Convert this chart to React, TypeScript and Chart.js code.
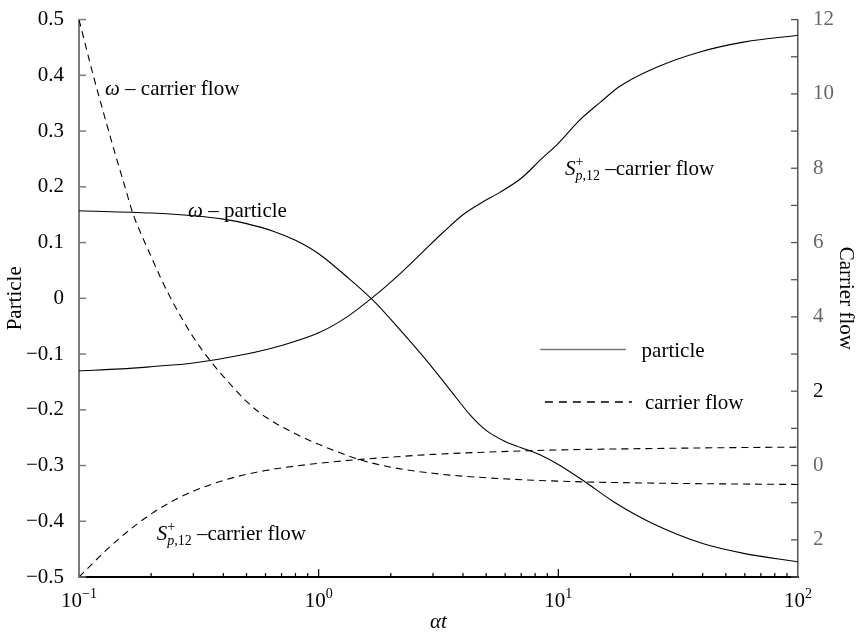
import React, { useEffect, useRef } from 'react';
import { Chart, registerables } from 'chart.js';

Chart.register(...registerables);

// ---- data (x = αt) ----
const xOmegaParticle = [0.1, 0.2, 0.3, 0.4, 0.5, 0.65, 0.8, 1.0, 1.3, 1.7, 2.2, 2.8, 3.5, 4.3, 5.0, 6.0, 7.0, 8.5, 10, 13, 17, 25, 40, 60, 100];
const yOmegaParticle = [0.157, 0.153, 0.148, 0.142, 0.134, 0.120, 0.104, 0.080, 0.040, -0.005, -0.058, -0.110, -0.162, -0.210, -0.237, -0.257, -0.268, -0.282, -0.298, -0.330, -0.365, -0.405, -0.440, -0.458, -0.473];

// solid rising curve, read on the right (carrier flow) axis
const xSParticle = [0.1, 0.15, 0.2, 0.3, 0.5, 0.7, 1.0, 1.3, 1.7, 2.2, 2.7, 3.3, 4.0, 4.8, 5.7, 7.0, 8.5, 10, 12.3, 15, 18, 26, 39, 60, 100];
const ySParticle = [2.55, 2.6, 2.66, 2.76, 3.0, 3.23, 3.57, 3.98, 4.55, 5.18, 5.73, 6.27, 6.75, 7.08, 7.35, 7.73, 8.25, 8.67, 9.3, 9.78, 10.2, 10.73, 11.13, 11.4, 11.58];

const xOmegaCarrier = [0.1, 0.115, 0.13, 0.1436, 0.156, 0.1685, 0.183, 0.198, 0.22, 0.25, 0.3, 0.35, 0.4, 0.5, 0.6, 0.8, 1.0, 1.5, 2.0, 3.0, 5.0, 10, 20, 50, 100];
const yOmegaCarrier = [0.5, 0.398, 0.315, 0.25, 0.198, 0.15, 0.112, 0.079, 0.035, -0.012, -0.07, -0.11, -0.14, -0.185, -0.213, -0.243, -0.262, -0.29, -0.303, -0.314, -0.322, -0.328, -0.331, -0.333, -0.334];

const xSCarrier = [0.1, 0.1305, 0.16, 0.198, 0.25, 0.3, 0.413, 0.6, 1.0, 1.5, 2, 3, 5, 10, 20, 50, 100];
const ySCarrier = [-3.0, -2.265, -1.77, -1.32, -0.93, -0.69, -0.375, -0.135, 0.06, 0.165, 0.225, 0.3, 0.36, 0.42, 0.45, 0.48, 0.495];

// axis ranges / ticks
const xMin = 0.1;
const xMax = 100;
const xDecades = [-1, 0, 1, 2];
const leftMin = -0.5;
const leftMax = 0.5;
const rightMin = -3;
const rightMax = 12;

const FONT = '"Liberation Serif", "Times New Roman", serif';
const FS = 21;

type Part = { t: string; italic?: boolean; size?: number; dy?: number; stay?: boolean };

function richWidth(ctx: CanvasRenderingContext2D, parts: Part[]) {
  let w = 0;
  for (const p of parts) {
    ctx.font = `${p.italic ? 'italic ' : ''}${p.size || FS}px ${FONT}`;
    if (!p.stay) w += ctx.measureText(p.t).width;
  }
  return w;
}

function drawRich(ctx: CanvasRenderingContext2D, x: number, yMid: number, parts: Part[]) {
  let cx = x;
  const base = yMid + 7;
  for (const p of parts) {
    ctx.font = `${p.italic ? 'italic ' : ''}${p.size || FS}px ${FONT}`;
    ctx.fillText(p.t, cx, base + (p.dy || 0));
    if (!p.stay) cx += ctx.measureText(p.t).width;
  }
}

const sLabel = (rest: string): Part[] => [
  { t: 'S', italic: true },
  { t: '+', size: 14, dy: -9, stay: true },
  { t: 'p', italic: true, size: 14, dy: 5 },
  { t: ',12', size: 14, dy: 5 },
  { t: rest },
];

const decor = {
  id: 'decor',
  afterDraw(chart: any) {
    const { ctx, chartArea: a, scales } = chart;
    const xs = scales.x, ys = scales.y, ys2 = scales.y2;
    ctx.save();
    const seg = (x1: number, y1: number, x2: number, y2: number) => {
      ctx.beginPath();
      ctx.moveTo(x1, y1);
      ctx.lineTo(x2, y2);
      ctx.stroke();
    };
    // left inward ticks
    ctx.strokeStyle = '#7a7a7a';
    ctx.lineWidth = 1.5;
    for (let i = 0; i <= 10; i++) {
      const v = leftMin + i * 0.1;
      const py = ys.getPixelForValue(v);
      seg(a.left, py, a.left + 7, py);
    }
    // right inward ticks
    ctx.strokeStyle = '#555';
    ctx.lineWidth = 1.3;
    for (let v = rightMin; v <= rightMax; v++) {
      const py = ys2.getPixelForValue(v);
      seg(a.right - 7, py, a.right, py);
    }
    // bottom inward ticks (log)
    ctx.strokeStyle = '#000';
    ctx.lineWidth = 1.2;
    for (let d = -1; d <= 1; d++) {
      for (let k = 1; k <= 9; k++) {
        const v = k * Math.pow(10, d);
        if (v <= xMin || v >= xMax) continue;
        const px = xs.getPixelForValue(v);
        seg(px, a.bottom, px, a.bottom - (k === 1 ? 8 : 4));
      }
    }

    ctx.fillStyle = '#000';
    ctx.textAlign = 'left';
    ctx.textBaseline = 'alphabetic';

    // x tick labels 10^n with real superscripts
    for (const d of xDecades) {
      const parts: Part[] = [
        { t: '10' },
        { t: (d < 0 ? '\u2212' : '') + String(Math.abs(d)), size: 14, dy: -9 },
      ];
      const w = richWidth(ctx, parts);
      const px = xs.getPixelForValue(Math.pow(10, d));
      drawRich(ctx, px - w / 2, a.bottom + 23, parts);
    }

    // annotations
    drawRich(ctx, xs.getPixelForValue(0.1284), ys.getPixelForValue(0.377), [
      { t: '\u03C9', italic: true },
      { t: ' \u2013 carrier flow' },
    ]);
    drawRich(ctx, xs.getPixelForValue(0.2852), ys.getPixelForValue(0.159), [
      { t: '\u03C9', italic: true },
      { t: ' \u2013 particle' },
    ]);
    drawRich(ctx, xs.getPixelForValue(10.65), ys.getPixelForValue(0.233), sLabel(' \u2013carrier flow'));
    drawRich(ctx, xs.getPixelForValue(0.211), ys.getPixelForValue(-0.4216), sLabel(' \u2013carrier flow'));

    // legend
    const lx1 = xs.getPixelForValue(8.4);
    const lx2 = xs.getPixelForValue(19.15);
    const ltx = xs.getPixelForValue(22.26);
    const ly1 = ys.getPixelForValue(-0.092);
    const ly2 = ys.getPixelForValue(-0.186);
    ctx.strokeStyle = '#777';
    ctx.lineWidth = 1.5;
    seg(lx1, ly1, lx2, ly1);
    ctx.strokeStyle = '#000';
    ctx.lineWidth = 1.3;
    ctx.setLineDash([8, 6]);
    seg(xs.getPixelForValue(8.79), ly2, xs.getPixelForValue(20.3), ly2);
    ctx.setLineDash([]);
    drawRich(ctx, ltx, ly1, [{ t: 'particle' }]);
    drawRich(ctx, xs.getPixelForValue(22.97), ly2, [{ t: 'carrier flow' }]);
    ctx.restore();
  },
};

const pts = (xs: number[], ys: number[]) => xs.map((x, i) => ({ x, y: ys[i] }));

export default function App() {
  const ref = useRef<HTMLCanvasElement | null>(null);
  useEffect(() => {
    if (!ref.current) return;
    const common = {
      pointRadius: 0,
      borderWidth: 1.1,
      borderColor: '#000',
      backgroundColor: '#000',
      fill: false,
      cubicInterpolationMode: 'monotone' as const,
    };
    const chart = new Chart(ref.current, {
      type: 'line',
      data: {
        datasets: [
          { ...common, label: '\u03C9 \u2013 particle', data: pts(xOmegaParticle, yOmegaParticle), yAxisID: 'y' },
          { ...common, label: 'S+p,12 \u2013 particle', data: pts(xSParticle, ySParticle), yAxisID: 'y2' },
          { ...common, label: '\u03C9 \u2013 carrier flow', data: pts(xOmegaCarrier, yOmegaCarrier), yAxisID: 'y', borderDash: [7, 5] },
          { ...common, label: 'S+p,12 \u2013 carrier flow', data: pts(xSCarrier, ySCarrier), yAxisID: 'y2', borderDash: [7, 5] },
        ],
      },
      options: {
        animation: false,
        responsive: true,
        maintainAspectRatio: false,
        layout: { padding: { top: 12, left: 0, right: 0, bottom: 0 } },
        plugins: { legend: { display: false }, tooltip: { enabled: false } },
        scales: {
          x: {
            type: 'logarithmic',
            min: xMin,
            max: xMax,
            grid: { display: false },
            border: { display: true, color: '#000', width: 2 },
            ticks: { display: false },
            title: { display: true, text: '\u03B1t', color: '#000', font: { family: FONT, size: FS, style: 'italic' }, padding: 2 },
            afterFit: (s: any) => { s.height = 60; },
          },
          y: {
            type: 'linear',
            position: 'left',
            min: leftMin,
            max: leftMax,
            grid: { display: false },
            border: { display: true, color: '#7a7a7a', width: 2 },
            ticks: {
              stepSize: 0.1,
              autoSkip: false,
              padding: 7,
              color: '#000',
              font: { family: FONT, size: FS },
              callback: (value: any) => {
                const v = Math.round(Number(value) * 10) / 10;
                if (v === 0) return '0';
                return (v < 0 ? '\u2212' : '') + Math.abs(v).toFixed(1);
              },
            },
            title: { display: true, text: 'Particle', color: '#000', font: { family: FONT, size: FS }, padding: 3 },
            afterFit: (s: any) => { s.width = 79; },
          },
          y2: {
            type: 'linear',
            position: 'right',
            min: rightMin,
            max: rightMax,
            grid: { display: false },
            border: { display: true, color: '#555', width: 1.5 },
            ticks: {
              stepSize: 1,
              autoSkip: false,
              padding: 7,
              color: (c: any) => (c.tick && c.tick.value === 2 ? '#000' : '#666'),
              font: { family: FONT, size: FS },
              callback: (value: any) => {
                const v = Math.round(Number(value));
                if (v % 2 !== 0) return '';
                return String(Math.abs(v));
              },
            },
            title: { display: true, text: 'Carrier flow', color: '#000', font: { family: FONT, size: FS }, padding: 1 },
            afterFit: (s: any) => { s.width = 61; },
          },
        },
      },
      plugins: [decor],
    } as any);
    return () => chart.destroy();
  }, []);

  return (
    <div style={{ position: 'absolute', left: 0, top: 0, width: 859, height: 637, background: '#fff' }}>
      <canvas ref={ref} />
    </div>
  );
}
